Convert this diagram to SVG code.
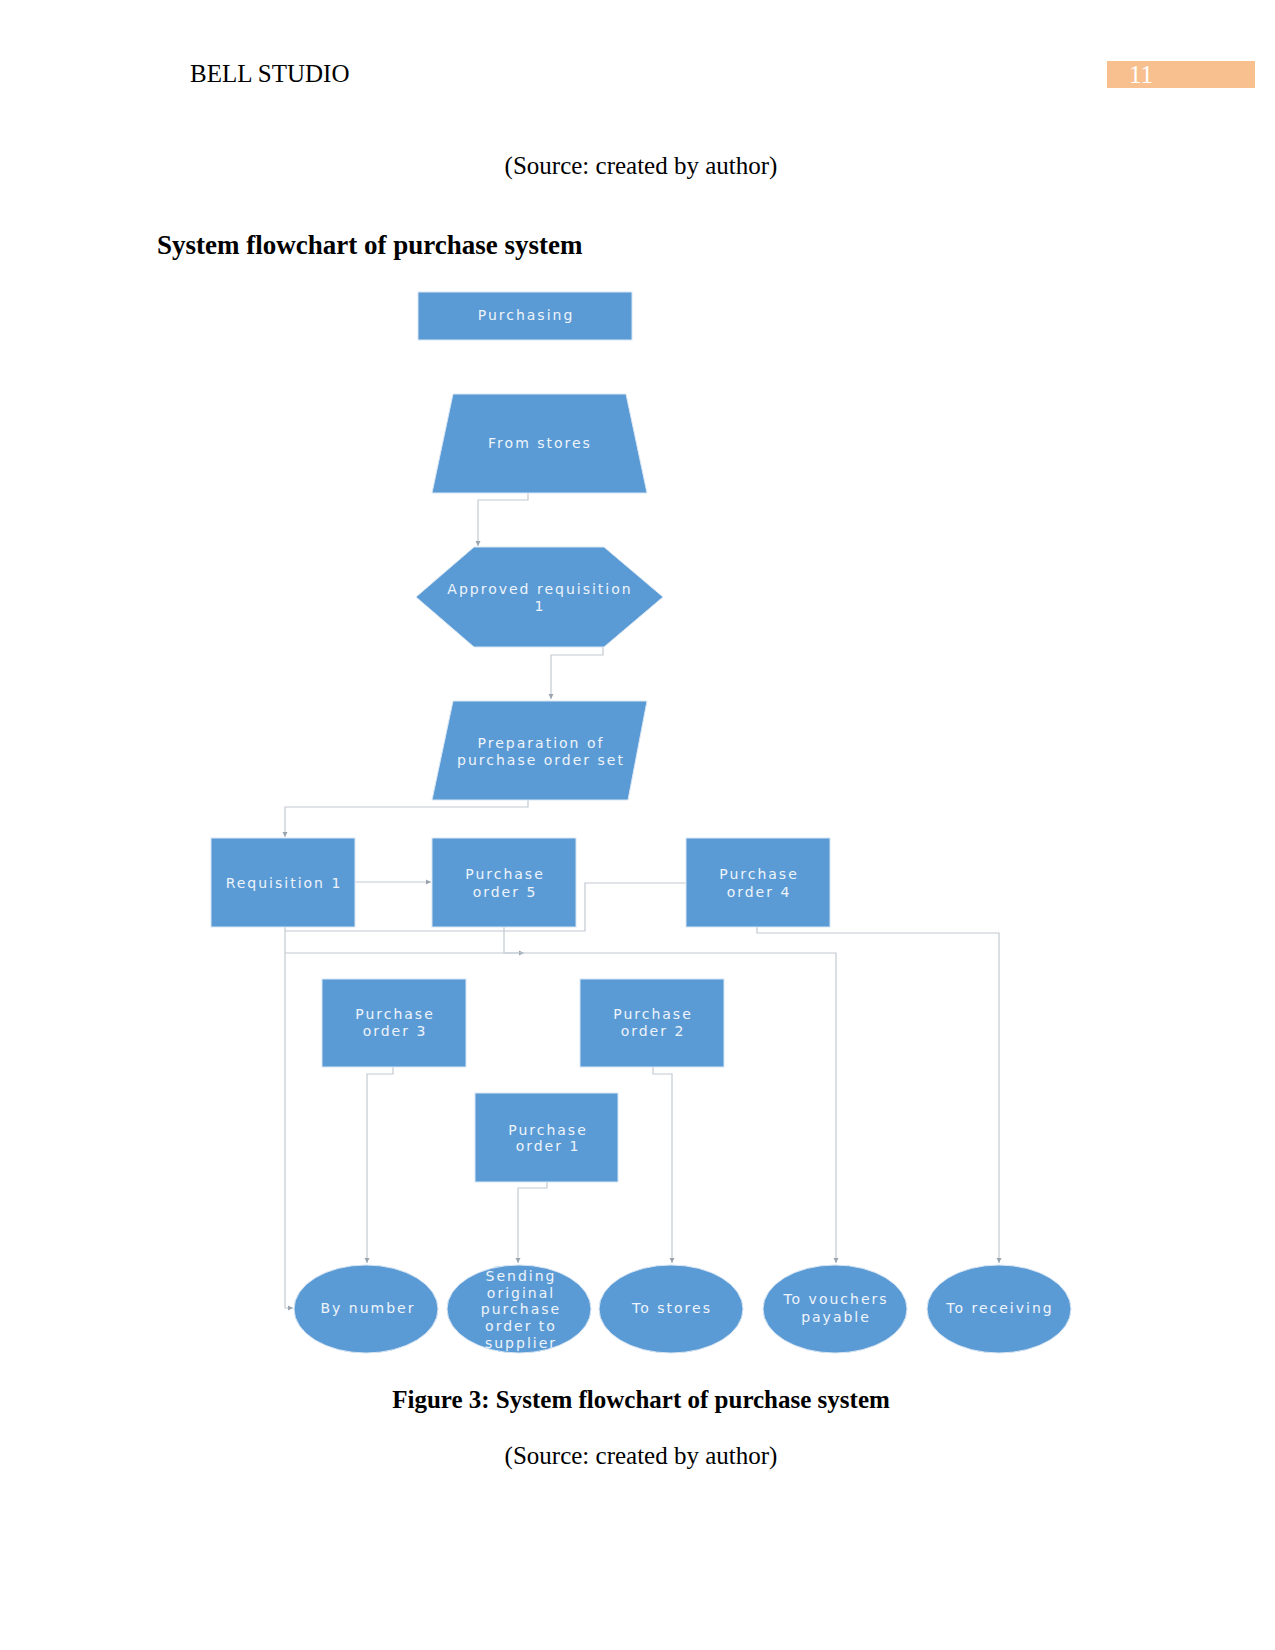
<svg xmlns="http://www.w3.org/2000/svg" width="1275" height="1650" viewBox="0 0 1275 1650">
<defs>
<marker id="arr" markerWidth="6" markerHeight="6" refX="5" refY="3" orient="auto" markerUnits="userSpaceOnUse">
<path d="M0,0.5 L5,3 L0,5.5 Z" fill="#9aa4ae"/>
</marker>
<style>
.doc{font-family:"Liberation Serif","Times New Roman",serif;font-size:25px;fill:#000}
.b{font-weight:bold}
.shape{fill:#5b9bd5;stroke:#d9e6f3;stroke-width:1}
.lbl{font-family:"DejaVu Sans","Open Sans",sans-serif;font-size:14px;letter-spacing:2px;fill:#eef4fb;text-anchor:middle}
.con{fill:none;stroke:#c2cad3;stroke-width:1.2}
</style>
</defs>
<rect width="1275" height="1650" fill="#fff"/>
<g id="header">
<text class="doc" x="190" y="82">BELL STUDIO</text>
<rect x="1107" y="61" width="148" height="27" fill="#f9c08f"/>
<text class="doc" x="1129" y="83" style="fill:#fff">11</text>
<text class="doc" x="641" y="174" text-anchor="middle">(Source: created by author)</text>
<text class="doc b" x="157" y="254" style="font-size:27px">System flowchart of purchase system</text>
</g>
<g id="connectors">
<path class="con" d="M528,493 V500 H478 V546" marker-end="url(#arr)"/>
<path class="con" d="M603,647 V655 H551 V699" marker-end="url(#arr)"/>
<path class="con" d="M528,800 V807 H285 V837" marker-end="url(#arr)"/>
<path class="con" d="M355,882 H431" marker-end="url(#arr)"/>
<path class="con" d="M687,883 H585 V931 H285"/>
<path class="con" d="M285,927 V1308 H293" marker-end="url(#arr)"/>
<path class="con" d="M285,953 H524" marker-end="url(#arr)"/>
<path class="con" d="M504,927 V953 H836 V1263" marker-end="url(#arr)"/>
<path class="con" d="M757,927 V933 H999 V1263" marker-end="url(#arr)"/>
<path class="con" d="M393,1067 V1074 H367 V1263" marker-end="url(#arr)"/>
<path class="con" d="M653,1067 V1074 H672 V1263" marker-end="url(#arr)"/>
<path class="con" d="M547,1182 V1188 H518 V1263" marker-end="url(#arr)"/>
</g>
<g id="purchasing">
<rect class="shape" x="418" y="292" width="214" height="48"/>
<text class="lbl" x="526" y="320">Purchasing</text>
</g>
<g id="from-stores">
<polygon class="shape" points="453,394 626,394 647,493 432,493"/>
<text class="lbl" x="540" y="448">From stores</text>
</g>
<g id="approved-requisition">
<polygon class="shape" points="474,547 604,547 663,597 604,647 474,647 416,597"/>
<text class="lbl" x="540" y="594">Approved requisition</text>
<text class="lbl" x="540" y="611">1</text>
</g>
<g id="preparation">
<polygon class="shape" points="453,701 647,701 628,800 432,800"/>
<text class="lbl" x="541" y="748">Preparation of</text>
<text class="lbl" x="541" y="765">purchase order set</text>
</g>
<g id="requisition-1">
<rect class="shape" x="211" y="838" width="144" height="89"/>
<text class="lbl" x="284" y="888">Requisition 1</text>
</g>
<g id="purchase-order-5">
<rect class="shape" x="432" y="838" width="144" height="89"/>
<text class="lbl" x="505" y="879">Purchase</text>
<text class="lbl" x="505" y="897">order 5</text>
</g>
<g id="purchase-order-4">
<rect class="shape" x="686" y="838" width="144" height="89"/>
<text class="lbl" x="759" y="879">Purchase</text>
<text class="lbl" x="759" y="897">order 4</text>
</g>
<g id="purchase-order-3">
<rect class="shape" x="322" y="979" width="144" height="88"/>
<text class="lbl" x="395" y="1019">Purchase</text>
<text class="lbl" x="395" y="1036">order 3</text>
</g>
<g id="purchase-order-2">
<rect class="shape" x="580" y="979" width="144" height="88"/>
<text class="lbl" x="653" y="1019">Purchase</text>
<text class="lbl" x="653" y="1036">order 2</text>
</g>
<g id="purchase-order-1">
<rect class="shape" x="475" y="1093" width="143" height="89"/>
<text class="lbl" x="548" y="1135">Purchase</text>
<text class="lbl" x="548" y="1151">order 1</text>
</g>
<g id="by-number">
<ellipse class="shape" cx="366" cy="1309" rx="72" ry="44"/>
<text class="lbl" x="368" y="1313">By number</text>
</g>
<g id="sending">
<ellipse class="shape" cx="519" cy="1309" rx="72" ry="44"/>
<text class="lbl" x="521" y="1281">Sending</text>
<text class="lbl" x="521" y="1298">original</text>
<text class="lbl" x="521" y="1314">purchase</text>
<text class="lbl" x="521" y="1331">order to</text>
<text class="lbl" x="521" y="1348">supplier</text>
</g>
<g id="to-stores">
<ellipse class="shape" cx="671" cy="1309" rx="72" ry="44"/>
<text class="lbl" x="672" y="1313">To stores</text>
</g>
<g id="to-vouchers">
<ellipse class="shape" cx="835" cy="1309" rx="72" ry="44"/>
<text class="lbl" x="836" y="1304">To vouchers</text>
<text class="lbl" x="836" y="1322">payable</text>
</g>
<g id="to-receiving">
<ellipse class="shape" cx="999" cy="1309" rx="72" ry="44"/>
<text class="lbl" x="1000" y="1313">To receiving</text>
</g>
<g id="caption">
<text class="doc b" x="641" y="1408" text-anchor="middle">Figure 3: System flowchart of purchase system</text>
<text class="doc" x="641" y="1464" text-anchor="middle">(Source: created by author)</text>
</g>
</svg>
